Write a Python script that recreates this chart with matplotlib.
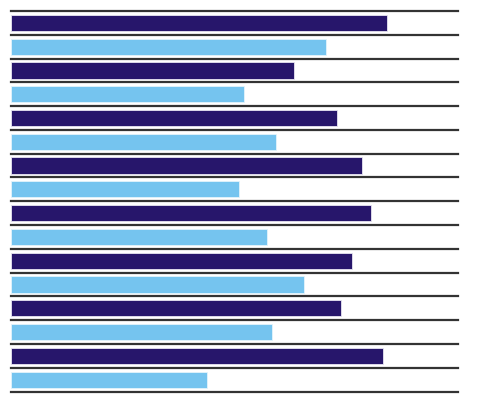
import matplotlib
matplotlib.use("Agg")
import matplotlib.pyplot as plt
import numpy as np

# eight groups, each with a dark and a light bar (no labels in the source)
groups = ["1", "2", "3", "4", "5", "6", "7", "8"]
dark_values = [84.1, 63.3, 73.0, 78.6, 80.5, 76.3, 73.9, 83.3]
light_values = [70.4, 52.1, 59.3, 51.0, 57.2, 65.5, 58.3, 43.7]

DARK = "#27166b"
LIGHT = "#75c4ef"

fig = plt.figure(figsize=(4.89, 3.98), dpi=100)
ax = fig.add_axes([0.0235, 0.0163, 0.9131, 0.9561])

n = len(groups)
dark_pos = np.arange(n) * 2
light_pos = dark_pos + 1
ax.barh(dark_pos, dark_values, height=0.68, color=DARK, edgecolor="#e8e6f2", linewidth=0.6)
ax.barh(light_pos, light_values, height=0.68, color=LIGHT, edgecolor="#e4f3fb", linewidth=0.6)

for k in range(2 * n + 1):
    ax.axhline(k - 0.5, color="#333333", linewidth=1.6, clip_on=False, zorder=0)

ax.set_xlim(0, 100)
ax.set_ylim(2 * n - 0.5, -0.5)
ax.axis("off")

fig.savefig("out.png", dpi=100)
